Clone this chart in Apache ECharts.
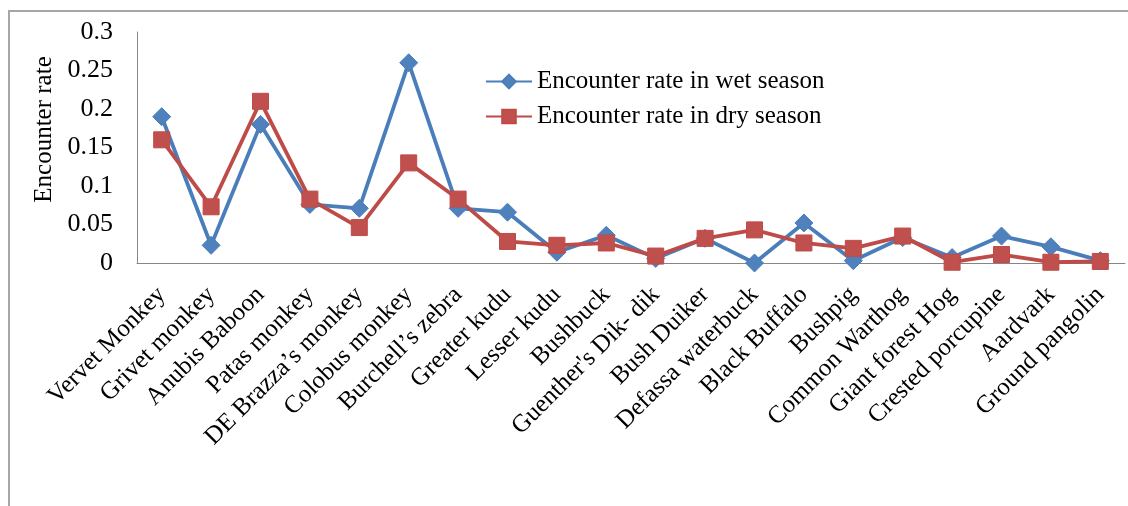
<!DOCTYPE html>
<html>
<head>
<meta charset="utf-8">
<script src="https://cdn.jsdelivr.net/npm/echarts@6/dist/echarts.min.js"></script>
<style>
  html, body { margin: 0; padding: 0; background: #ffffff; }
  #chart { width: 1128px; height: 506px; }
</style>
</head>
<body>
<div id="chart"></div>
<script>
// Species recorded along the transects
const categories = [
  "Vervet Monkey", "Grivet monkey", "Anubis Baboon", "Patas monkey",
  "DE Brazza\u2019s monkey", "Colobus monkey", "Burchell\u2019s zebra", "Greater kudu",
  "Lesser kudu", "Bushbuck", "Guenther's Dik- dik", "Bush Duiker",
  "Defassa waterbuck", "Black Buffalo", "Bushpig", "Common Warthog",
  "Giant forest Hog", "Crested porcupine", "Aardvark", "Ground pangolin"
];

// Encounter rates per species
const wetSeason = [
  0.19, 0.023, 0.18, 0.076, 0.071, 0.26, 0.071, 0.066,
  0.014, 0.036, 0.006, 0.032, 0.0, 0.052, 0.003, 0.033,
  0.007, 0.035, 0.021, 0.003
];
const drySeason = [
  0.16, 0.073, 0.21, 0.083, 0.046, 0.13, 0.083, 0.028,
  0.023, 0.026, 0.009, 0.032, 0.043, 0.026, 0.019, 0.035,
  0.001, 0.011, 0.001, 0.002
];

const seriesNames = ["Encounter rate in wet season", "Encounter rate in dry season"];
const yTicks = { min: 0, max: 0.3, step: 0.05 };

const serif = "'Liberation Serif', 'Times New Roman', serif";
const chart = echarts.init(document.getElementById("chart"), null, { renderer: "canvas" });

chart.setOption({
  animation: false,
  backgroundColor: "#ffffff",
  graphic: [{
    type: "rect",
    shape: { x: 9, y: 11, width: 1300, height: 700 },
    style: { fill: "none", stroke: "#a6a6a6", lineWidth: 2 },
    silent: true,
    z: -1
  }],
  grid: { left: 137, right: 3, top: 32, bottom: 243, containLabel: false },
  legend: {
    orient: "vertical",
    left: 480,
    top: 64,
    itemWidth: 46,
    itemHeight: 17,
    itemGap: 10,
    textStyle: { fontFamily: serif, fontSize: 25, color: "#000000" },
    data: seriesNames
  },
  xAxis: {
    type: "category",
    data: categories,
    boundaryGap: true,
    axisLine: { lineStyle: { color: "#868686", width: 1 } },
    axisTick: { show: false },
    axisLabel: {
      interval: 0,
      rotate: 45,
      margin: 28,
      fontFamily: serif,
      fontSize: 25,
      color: "#000000"
    }
  },
  yAxis: {
    type: "value",
    min: yTicks.min,
    max: yTicks.max,
    interval: yTicks.step,
    name: "Encounter rate",
    nameLocation: "middle",
    nameGap: 80,
    nameRotate: 90,
    nameTextStyle: {
      fontFamily: serif,
      fontSize: 25,
      color: "#000000",
      padding: [0, 0, 0, 36]
    },
    splitLine: { show: false },
    axisLine: { show: true, lineStyle: { color: "#868686", width: 1 } },
    axisTick: { show: false },
    axisLabel: {
      margin: 24,
      fontFamily: serif,
      fontSize: 26,
      color: "#000000",
      formatter: v => String(+v.toFixed(2))
    }
  },
  series: [
    {
      name: seriesNames[0],
      type: "line",
      data: wetSeason,
      symbol: "diamond",
      symbolSize: 18,
      lineStyle: { color: "#4A7EBB", width: 3.8 },
      itemStyle: { color: "#4F81BD", borderColor: "#4A7EBB", borderWidth: 1 }
    },
    {
      name: seriesNames[1],
      type: "line",
      data: drySeason,
      symbol: "rect",
      symbolSize: 16,
      lineStyle: { color: "#BE4B48", width: 3.8 },
      itemStyle: { color: "#C0504D", borderColor: "#BE4B48", borderWidth: 1 }
    }
  ]
});
</script>
</body>
</html>
